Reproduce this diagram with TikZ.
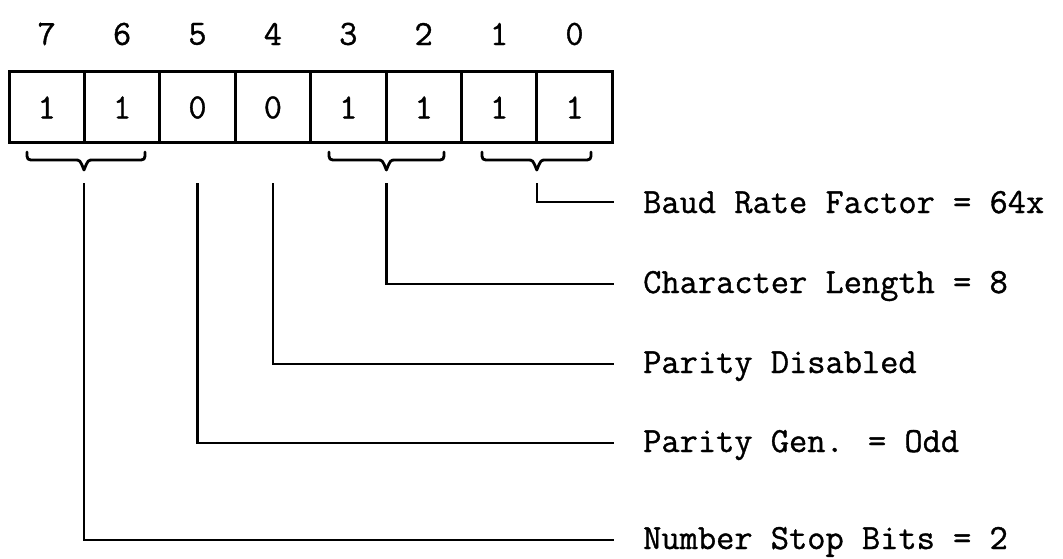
\documentclass[tikz,border=0pt]{standalone}
\usepackage{fontspec}
\newfontfamily\twfont{Latin Modern Mono}[FakeBold=1]
\begin{document}
\begin{tikzpicture}[x=1pt,y=-1pt,
  cell/.style={draw,line width=3pt,minimum width=75.4pt,minimum height=71pt,inner sep=0pt,font=\twfont\fontsize{35.4}{35.4}\selectfont},
  bitnum/.style={inner sep=0pt,font=\twfont\fontsize{35.4}{35.4}\selectfont},
  lbl/.style={anchor=base west,inner sep=0pt,font=\twfont\fontsize{35.4}{35.4}\selectfont},
  conn/.style={line width=2.6pt},
  bracepath/.style={line width=2.8pt,line cap=round,line join=round}]
\useasboundingbox (0,0) rectangle (1063,559);
% cells
\foreach \i/\b/\v in {0/7/1,1/6/1,2/5/0,3/4/0,4/3/1,5/2/1,6/1/1,7/0/1}{
  \node[cell] (c\b) at ({9+75.4*(\i+0.5)},107.5) {\v};
  \node[bitnum] (n\b) at ({9+75.4*(\i+0.5)},34) {\b};
}
% braces
\newcommand{\mybrace}[3]{%
  \draw[bracepath] (#1,152) .. controls (#1,160) .. (#1+8,160) -- (#3-9,160)
     .. controls (#3-4,160) .. (#3,170) .. controls (#3+4,160) .. (#3+9,160)
     -- (#2-8,160) .. controls (#2,160) .. (#2,152);}
\mybrace{27}{145}{84}
\mybrace{329}{444}{386.4}
\mybrace{482}{591}{536.8}
% connector start points
\coordinate (s10) at (536.8,183);
\coordinate (s32) at (386.4,183);
\coordinate (s4) at (c4.center |- 0,183);
\coordinate (s5) at (c5.center |- 0,183);
\coordinate (s76) at (84,183);
% labels
\node[lbl] (lbaud) at (643,213) {Baud Rate Factor = 64x};
\node[lbl] (lchar) at (643,293) {Character Length = 8};
\node[lbl] (lpdis) at (643,373) {Parity Disabled};
\node[lbl] (lpgen) at (643,452) {Parity Gen. = Odd};
\node[lbl] (lstop) at (643,549) {Number Stop Bits = 2};
% connectors
\draw[conn] (s10) |- (614,202) coordinate (e10);
\draw[conn] (s32) |- (614,284) coordinate (e32);
\draw[conn] (s4) |- (614,364) coordinate (e4);
\draw[conn] (s5) |- (614,443) coordinate (e5);
\draw[conn] (s76) |- (614,540) coordinate (e76);
\end{tikzpicture}
\end{document}
